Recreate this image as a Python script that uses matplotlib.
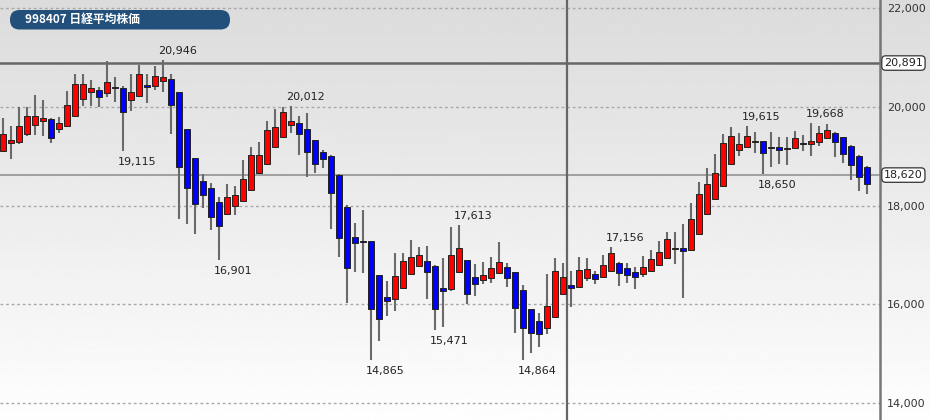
import matplotlib.pyplot as plt
import numpy as np
from matplotlib.patches import Rectangle, FancyBboxPatch
from matplotlib.transforms import Affine2D

# weekly candles
opens = [
    19108, 19280, 19297, 19453, 19635, 19726, 19757, 19564, 19615, 19824,
    20152, 20314, 20345, 20274, 20390, 20391, 20132, 20223, 20440, 20432,
    20527, 20568, 20298, 19548, 18960, 18500, 18352, 18068, 17825, 18000,
    18101, 18318, 18668, 18839, 19183, 19386, 19641, 19676, 19560, 19325,
    19082, 19007, 18628, 17979, 17365, 17290, 17280, 16590, 16149, 16114,
    16337, 16609, 16783, 16884, 16777, 16337, 16305, 16655, 16890, 16548,
    16487, 16540, 16641, 16751, 16650, 16290, 15900, 15662, 15526, 15749,
    16216, 16386, 16358, 16540, 16615, 16560, 16682, 16840, 16730, 16662,
    16615, 16682, 16791, 16933, 17128, 17142, 17101, 17426, 17825, 18129,
    18399, 18845, 19128, 19189, 19297, 19305, 19195, 19189, 19155, 19163,
    19264, 19256, 19284, 19378, 19467, 19386, 19216, 19013, 18790]
closes = [
    19453, 19331, 19615, 19818, 19818, 19787, 19372, 19666, 20034, 20476,
    20476, 20375, 20193, 20507, 20395, 19889, 20294, 20679, 20405, 20622,
    20608, 20041, 18790, 18364, 18040, 18210, 17770, 17588, 18182, 18210,
    18541, 19027, 19021, 19534, 19589, 19899, 19716, 19447, 19082, 18845,
    18940, 18251, 17339, 16730, 17243, 17270, 15899, 15709, 16074, 16574,
    16878, 16953, 16994, 16649, 15912, 16276, 16994, 17142, 16210, 16412,
    16601, 16730, 16858, 16540, 15920, 15526, 15413, 15399, 15972, 16682,
    16560, 16331, 16696, 16710, 16507, 16791, 17034, 16629, 16601, 16560,
    16751, 16913, 17055, 17324, 17142, 17075, 17736, 18237, 18439, 18662,
    19276, 19422, 19250, 19412, 19311, 19074, 19175, 19134, 19175, 19366,
    19244, 19317, 19467, 19540, 19291, 19041, 18818, 18575, 18439]
highs = [
    19777, 19605, 19994, 20000, 20243, 20142, 19777, 19797, 20324, 20669,
    20669, 20547, 20399, 20930, 20602, 20426, 20669, 20851, 20669, 20821,
    20946, 20669, 20314, 19554, 18966, 18642, 18459, 18176, 18433, 18399,
    18920, 19195, 19297, 19722, 19953, 19990, 20012, 19818, 19872, 19331,
    19128, 19027, 18632, 18007, 17643, 17912, 17290, 16600, 16473, 17041,
    17034, 17298, 17168, 17182, 16787, 16933, 17574, 17613, 16900, 16818,
    16852, 16953, 17258, 16844, 16660, 16392, 15910, 15818, 16615, 16945,
    16832, 16676, 16953, 16933, 16670, 16994, 17156, 16850, 16844, 16763,
    16980, 17101, 17290, 17472, 17472, 17628, 18048, 18486, 18757, 19047,
    19443, 19601, 19479, 19615, 19493, 19315, 19487, 19398, 19398, 19520,
    19426, 19668, 19621, 19649, 19487, 19392, 19220, 19017, 18794]
lows = [
    19088, 18936, 19250, 19412, 19432, 19412, 19270, 19483, 19595, 19818,
    20020, 20020, 20010, 20197, 20107, 19115, 19919, 20203, 20091, 20345,
    20314, 19447, 17730, 17622, 17432, 17947, 17501, 16901, 17811, 17805,
    18095, 18310, 18642, 18824, 19169, 19372, 19467, 19037, 18575, 18668,
    18770, 17521, 16960, 16033, 16662, 16641, 14865, 15263, 15764, 15871,
    16330, 16605, 16777, 16102, 15471, 15547, 16280, 16645, 16007, 16175,
    16406, 16426, 16635, 16345, 15425, 14864, 15007, 15129, 15399, 15743,
    16210, 15940, 16352, 16473, 16412, 16554, 16676, 16378, 16426, 16305,
    16560, 16676, 16787, 16930, 16818, 16128, 17095, 17420, 17821, 18125,
    18395, 18840, 19007, 19179, 19074, 18650, 18790, 18845, 18824, 19159,
    19114, 19007, 19209, 19372, 18980, 18859, 18520, 18297, 18236]

high_marks = [20, 36, 57, 76, 93, 101]
low_marks = [15, 27, 46, 54, 65, 95]
grid_vals = [14000, 16000, 18000, 20000, 22000]
line_dark = 20891
line_light = 18620
title = "998407 日経平均株価"

W, H = 930, 420
fig = plt.figure(figsize=(W / 100, H / 100), dpi=100)

# gradient background
bg = fig.add_axes([0, 0, 1, 1])
bg.axis('off')
grad = np.linspace(0.86, 0.995, 256).reshape(-1, 1)
bg.imshow(grad, cmap='gray', vmin=0, vmax=1, aspect='auto', extent=[0, 1, 0, 1])

ax = fig.add_axes([0, 0, 880 / W, 1])
ax.set_facecolor('none')
n = len(opens)
x = np.arange(n)
ax.set_xlim(-0.34, 109.66)
ax.set_ylim(13655, 22169)

for v in grid_vals:
    ax.axhline(v, color='#a8a8a8', lw=1, ls=(0, (2, 2)), zorder=1)
ax.axhline(line_dark, color='#666666', lw=1.8, zorder=1.5)
ax.axhline(line_light, color='#9a9a9a', lw=1.3, zorder=1.5)
ax.axvline(70.5, color='#666666', lw=1.6, zorder=1.5)

ax.vlines(x, lows, highs, color='#6a6a6a', lw=1.5, zorder=2)
for i in range(n):
    o, c = opens[i], closes[i]
    col = '#ff0000' if c > o else '#0000ff'
    ax.add_patch(Rectangle((i - 0.38, min(o, c)), 0.76, max(abs(c - o), 18),
                           fc=col, ec='#222222', lw=0.7, zorder=3))

for i in high_marks:
    ax.annotate(f"{highs[i]:,}", (i, highs[i]), xytext=(-4.5, 4),
                textcoords='offset pixels', ha='left', va='bottom',
                fontsize=8, color='#222222')
for i in low_marks:
    ax.annotate(f"{lows[i]:,}", (i, lows[i]), xytext=(-4.5, -6),
                textcoords='offset pixels', ha='left', va='top',
                fontsize=8, color='#222222')

ax.set_xticks([])
ax.yaxis.tick_right()
ax.set_yticks(grid_vals)
ax.set_yticklabels([f"{v:,}" for v in grid_vals])
ax.tick_params(axis='y', length=0, pad=5, labelsize=8, labelcolor='#333333')
for s in ['left', 'top', 'bottom']:
    ax.spines[s].set_visible(False)
ax.spines['right'].set_color('#777777')
ax.spines['right'].set_linewidth(1.8)

for v in [line_dark, line_light]:
    ax.text(884 / 880, v, f"{v:,}", transform=ax.get_yaxis_transform(),
            ha='left', va='center', fontsize=8, color='#222222', zorder=5,
            bbox=dict(boxstyle='round,pad=0.2,rounding_size=0.35',
                      fc='white', ec='#333333', lw=0.9))

# title pill
px = Affine2D().scale(1 / W, 1 / H) + fig.transFigure
fig.add_artist(FancyBboxPatch((10, H - 29.5), 220, 19.5,
                              boxstyle='round,pad=0,rounding_size=9.5',
                              fc='#22507a', ec='none', transform=px))
fig.text(25 / W, 1 - 19.7 / H, title, color='white', fontsize=8.5,
         fontweight='bold', family=['Noto Sans CJK JP', 'DejaVu Sans'],
         va='center', ha='left')

fig.savefig('out.png', dpi=100)
